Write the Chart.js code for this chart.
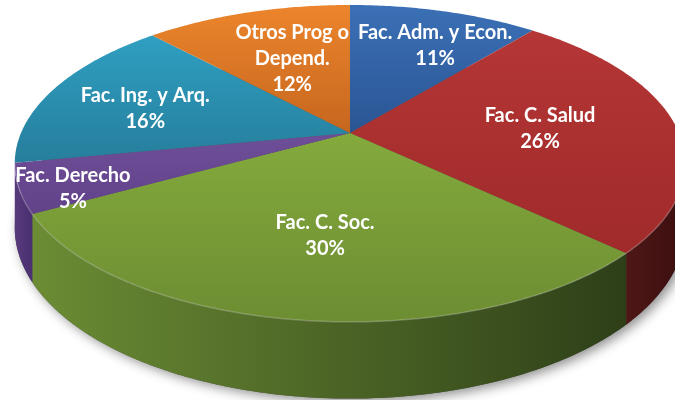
<!DOCTYPE html>
<html>
<head>
<meta charset="utf-8">
<script src="https://cdn.jsdelivr.net/npm/chart.js@4.4.0/dist/chart.umd.min.js"></script>
<style>
  html, body { margin: 0; padding: 0; background: #fff; }
  #myChart { display: block; width: 675px; height: 400px; }
</style>
</head>
<body>
<canvas id="myChart" width="675" height="400"></canvas>
<script>
// data
var categories = ['Fac. Adm. y Econ.', 'Fac. C. Salud', 'Fac. C. Soc.', 'Fac. Derecho', 'Fac. Ing. y Arq.', ['Otros Prog o', 'Depend.']];
var shares = [11, 26, 30, 5, 16, 12];

// colours: top face (light, dark) and outer wall (left, right)
var topLight = ['#3b70b6', '#b53636', '#84aa3d', '#6d4e98', '#2f9fc1', '#ec852c'];
var topDark  = ['#2a5593', '#a02a2a', '#6d8d32', '#62438a', '#267e9c', '#c6661e'];
var sideLeft  = ['#2a4f86', '#4f1717', '#6b8c34', '#573a7c', '#216f8a', '#a4561a'];
var sideRight = ['#1f3c66', '#3a0e0e', '#2e3f18', '#4a3070', '#1a5a70', '#7e4214'];

// 3d look (perspective tilt of the disc)
var K = 0.192, B = 329, A = 152.6, DEPTH = 62;
// label placement inside each slice: share of radius, turn from the mid angle (deg)
var labelRadius = [0.703, 0.582, 0.601, 0.857, 0.662, 0.569];
var labelTurn = [4.6, 0.5, -0.8, -3.4, -3.8, 1.7];

function project(el, f, ang, drop) {
  var u = f * Math.cos(ang), v = f * Math.sin(ang);
  var s = 1 / (1 - K * v);
  return { x: el.x + B * u * s, y: el.y + A * v * s + (drop ? DEPTH * s : 0) };
}

function edge(el, a0, a1, drop) {
  var n = Math.max(2, Math.ceil(Math.abs(a1 - a0) * 90));
  var pts = [];
  for (var i = 0; i <= n; i++) pts.push(project(el, 1, a0 + (a1 - a0) * i / n, drop));
  return pts;
}

function trace(ctx, pts, first) {
  pts.forEach(function (p, i) {
    if (first && i === 0) ctx.moveTo(p.x, p.y); else ctx.lineTo(p.x, p.y);
  });
}

var pie3d = {
  id: 'pie3d',
  beforeDatasetsDraw: function (chart) {
    var ctx = chart.ctx;
    var arcs = chart.getDatasetMeta(0).data;
    var lim = Math.asin(K);

    // soft shadow under the disc
    ctx.save();
    ctx.beginPath();
    trace(ctx, edge(arcs[0], 0, Math.PI * 2, true), true);
    ctx.closePath();
    ctx.shadowColor = 'rgba(0,0,0,0.45)';
    ctx.shadowBlur = 12;
    ctx.shadowOffsetX = 4;
    ctx.shadowOffsetY = 3;
    ctx.fillStyle = '#555';
    ctx.fill();
    ctx.restore();

    // outer walls, front half only
    arcs.forEach(function (el, i) {
      var lo = Math.max(el.startAngle, lim), hi = Math.min(el.endAngle, Math.PI - lim);
      if (hi <= lo) return;
      var top = edge(el, lo, hi, false);
      var bot = edge(el, hi, lo, true);
      var xs = top.map(function (p) { return p.x; });
      var g = ctx.createLinearGradient(Math.min.apply(null, xs), 0, Math.max.apply(null, xs), 0);
      g.addColorStop(0, sideLeft[i]);
      g.addColorStop(1, sideRight[i]);
      ctx.beginPath();
      trace(ctx, top, true);
      trace(ctx, bot, false);
      ctx.closePath();
      ctx.fillStyle = g;
      ctx.fill();
    });

    // top faces
    arcs.forEach(function (el, i) {
      var pts = edge(el, el.startAngle, el.endAngle, false);
      var ys = pts.map(function (p) { return p.y; }).concat([el.y]);
      var g = ctx.createLinearGradient(0, Math.min.apply(null, ys), 0, Math.max.apply(null, ys));
      g.addColorStop(0, topLight[i]);
      g.addColorStop(1, topDark[i]);
      ctx.beginPath();
      ctx.moveTo(el.x, el.y);
      trace(ctx, pts, false);
      ctx.closePath();
      ctx.fillStyle = g;
      ctx.fill();
    });

    // light rim on the front edge
    ctx.save();
    ctx.beginPath();
    trace(ctx, edge(arcs[0], lim, Math.PI - lim, false), true);
    ctx.strokeStyle = 'rgba(255,255,255,0.22)';
    ctx.lineWidth = 1.5;
    ctx.stroke();
    ctx.restore();
    return false;
  },
  afterDraw: function (chart) {
    var ctx = chart.ctx;
    var arcs = chart.getDatasetMeta(0).data;
    ctx.save();
    ctx.fillStyle = '#fff';
    ctx.font = '700 20px Lato';
    ctx.textAlign = 'center';
    ctx.textBaseline = 'middle';
    arcs.forEach(function (el, i) {
      var mid = (el.startAngle + el.endAngle) / 2 + labelTurn[i] * Math.PI / 180;
      var p = project(el, labelRadius[i], mid, false);
      var lines = [].concat(chart.data.labels[i]);
      lines.push(shares[i] + '%');
      var lh = 26;
      var y0 = p.y - (lines.length - 1) * lh / 2;
      lines.forEach(function (t, j) { ctx.fillText(t, p.x, y0 + j * lh); });
    });
    ctx.restore();
  }
};

var ctx = document.getElementById('myChart').getContext('2d');
var myPie = new Chart(ctx, {
  type: 'pie',
  data: {
    labels: categories,
    datasets: [{ data: shares, backgroundColor: topLight, borderWidth: 0 }]
  },
  options: {
    responsive: false,
    animation: false,
    layout: { padding: { left: 25, right: 0, top: 0, bottom: 134 } },
    plugins: { legend: { display: false }, tooltip: { enabled: false } }
  },
  plugins: [pie3d]
});
</script>
</body>
</html>
